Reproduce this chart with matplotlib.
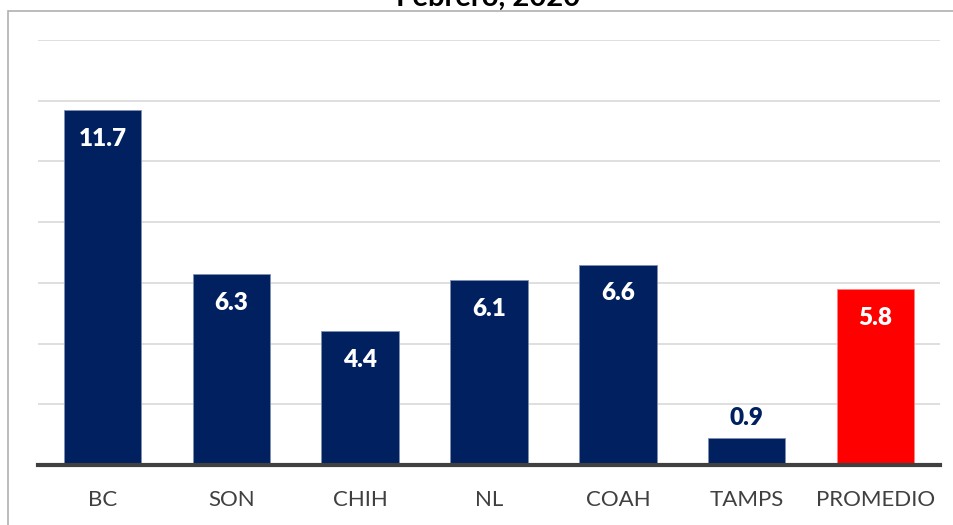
import matplotlib.pyplot as plt
from matplotlib.patches import Rectangle

# Datos por estado y el promedio
estados = ["BC", "SON", "CHIH", "NL", "COAH", "TAMPS", "PROMEDIO"]
valores = [11.7, 6.3, 4.4, 6.1, 6.6, 0.9, 5.8]
colores = ["#002060"] * 6 + ["#FF0000"]
titulo = "Febrero, 2020"

plt.rcParams['font.family'] = ['Lato', 'DejaVu Sans']

fig = plt.figure(figsize=(9.54, 5.25), dpi=100)
ax = fig.add_axes([38 / 954, 1 - 465 / 525, (940 - 38) / 954, (465 - 40) / 525])

# marco del gráfico
fig.patches.append(Rectangle((8 / 954, -0.01), 1.0, 1 - 11 / 525 + 0.01,
                             transform=fig.transFigure, fill=False,
                             edgecolor="#b0b0b0", linewidth=1.2))

fig.text(488 / 954, 1 - 6 / 525, titulo, ha='center', va='baseline',
         fontsize=21, fontweight='bold', color='black')

x = range(len(estados))
barras = ax.bar(x, valores, width=0.6, color=colores, edgecolor="#8090b0",
                linewidth=0.6, zorder=3)
barras[-1].set_edgecolor("#ff8080")

for i, v in enumerate(valores):
    if v < 2:
        ax.text(i, v + 0.3, f"{v:.1f}", ha='center', va='bottom',
                fontsize=17.5, fontweight='heavy', color="#002060", zorder=4)
    else:
        ax.text(i, v - 0.95, f"{v:.1f}", ha='center', va='center',
                fontsize=17.5, fontweight='heavy', color='white', zorder=4)

ax.set_xlim(-0.5, len(estados) - 0.5)
ax.set_ylim(0, 14)
ax.set_yticks(range(2, 15, 2))
ax.yaxis.grid(True, color="#d9d9d9", linewidth=1.2, zorder=0)
ax.set_yticklabels([])
ax.tick_params(axis='y', length=0)
ax.tick_params(axis='x', length=0, pad=18, labelsize=16, labelcolor="#404040")
ax.set_xticks(list(x))
ax.set_xticklabels(estados)

for lado in ["top", "right", "left"]:
    ax.spines[lado].set_visible(False)
ax.spines["bottom"].set_color("#404040")
ax.spines["bottom"].set_linewidth(3)
ax.spines["bottom"].set_zorder(5)

fig.savefig("out.png", dpi=100)
